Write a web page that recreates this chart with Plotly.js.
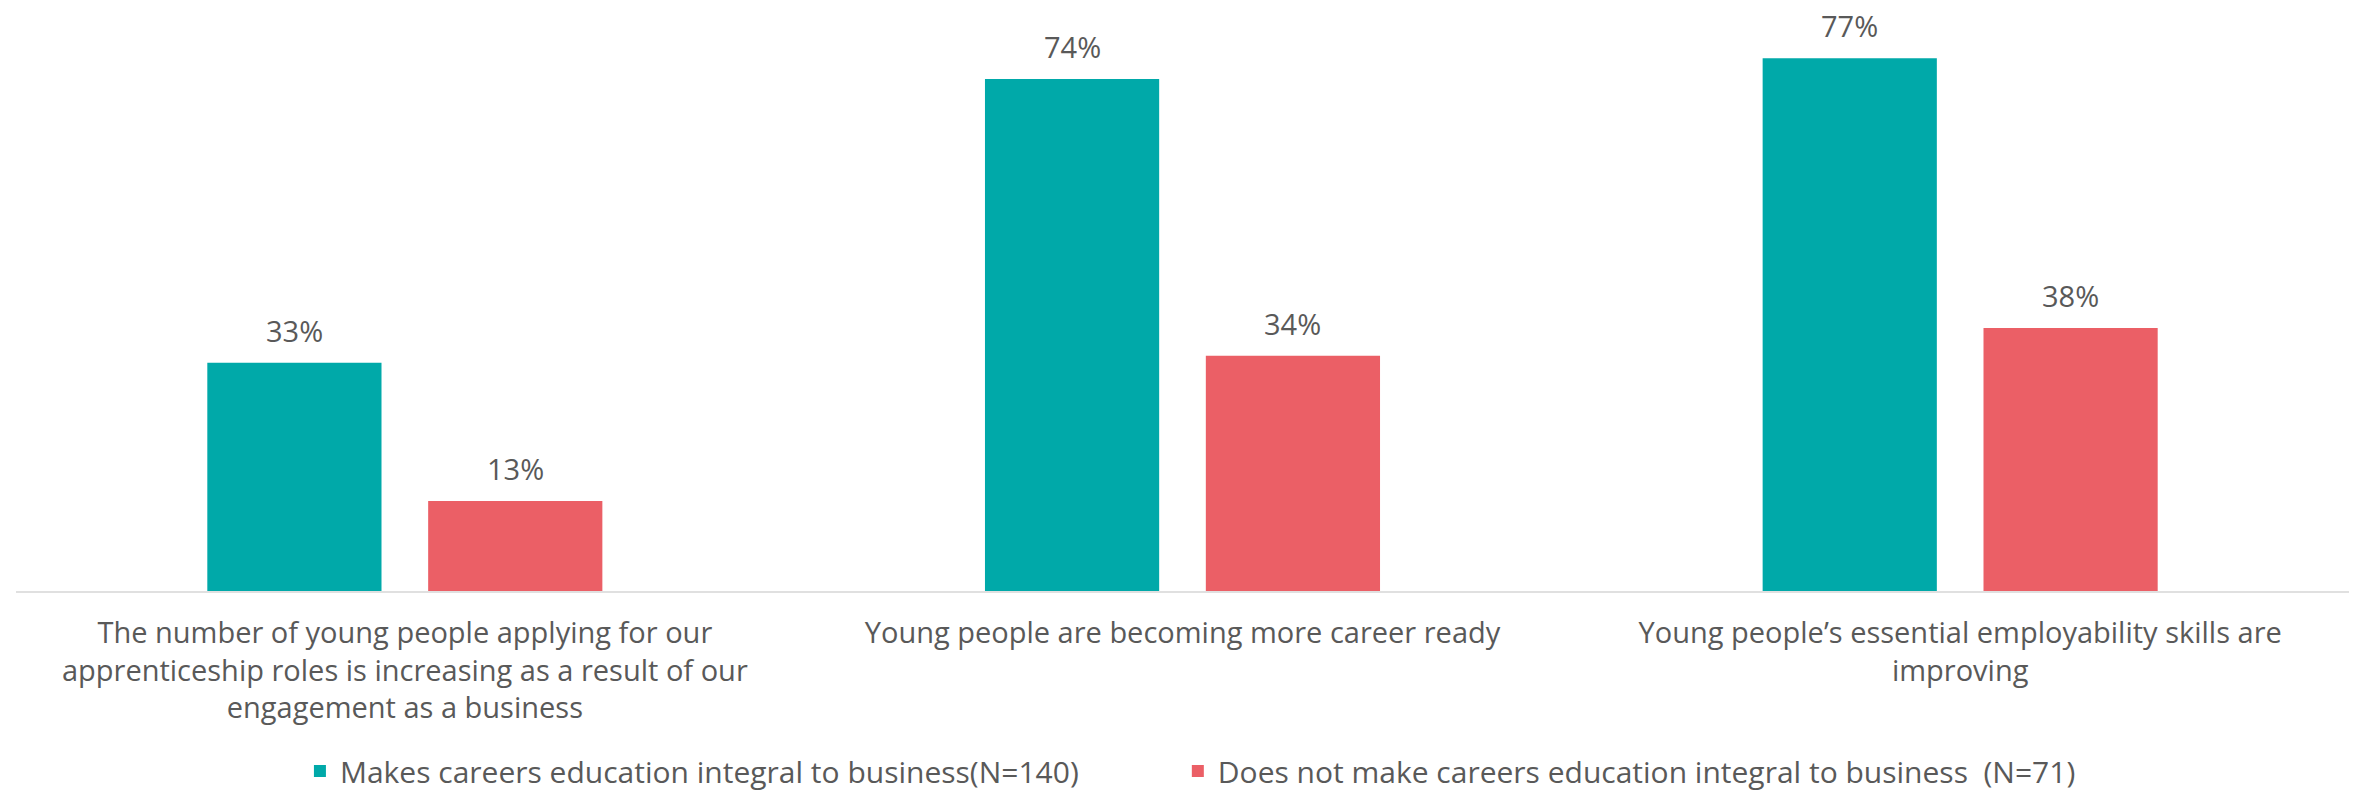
<!DOCTYPE html>
<html>
<head>
<meta charset="utf-8">
<script src="https://cdn.plot.ly/plotly-3.0.1.min.js"></script>
<style>html,body{margin:0;padding:0;background:#fff;}</style>
</head>
<body>
<div id="chart" style="width:2356px;height:794px;"></div>
<script>
const categories = [
  "The number of young people applying for our<br>apprenticeship roles is increasing as a result of our<br>engagement as a business",
  "Young people are becoming more career ready",
  "Young people’s essential employability skills are<br>improving"
];
const seriesNames = [
  "Makes careers education integral to business(N=140)",
  "Does not make careers education integral to business  (N=71)"
];
const integralValues = [33, 74, 77];
const notIntegralValues = [13, 34, 38];
const colors = ["#00A9A9", "#EB5F66"];

const fontFam = "Open Sans, Noto Sans, sans-serif";
const txtColor = "#595959";
const barWidth = 0.224;
const offsets = [-0.254, 0.030];
const legendIds = ["legend", "legend2"];

const seriesValues = [integralValues, notIntegralValues];

const traces = seriesValues.map((vals, i) => ({
  type:"bar", name:seriesNames[i], x:categories, y:vals,
  width:barWidth, offset:offsets[i], legend:legendIds[i],
  marker:{color:colors[i]}, hoverinfo:"none"
}));

const annotations = [];
seriesValues.forEach((vals, i) => {
  vals.forEach((v, j) => {
    annotations.push({
      xref:"x", yref:"y", x:j + offsets[i] + barWidth/2, y:v,
      text:v + "%", showarrow:false, yanchor:"bottom", xanchor:"center", yshift:11,
      font:{family:fontFam, size:29, color:txtColor}
    });
  });
});

const legendBase = {orientation:"h", xanchor:"left", yref:"container", y:0.029, yanchor:"middle",
                    font:{family:fontFam, size:30, color:txtColor}, bgcolor:"rgba(0,0,0,0)"};

const layout = {
  width:2356, height:794,
  margin:{l:16, r:7, t:0, b:203},
  paper_bgcolor:"#ffffff", plot_bgcolor:"#ffffff",
  barmode:"overlay",
  font:{family:fontFam, color:txtColor, size:29},
  xaxis:{type:"category", showline:true, linecolor:"#E0E0E0", linewidth:2,
         ticks:"", showgrid:false, zeroline:false, ticklabelstandoff:15,
         range:[-0.5, 2.5], automargin:false,
         tickfont:{family:fontFam, size:29, color:txtColor}},
  yaxis:{range:[0,85.4], visible:false, showgrid:false, zeroline:false},
  showlegend:true,
  legend:Object.assign({}, legendBase, {x:0.1217}),
  legend2:Object.assign({}, legendBase, {x:0.498}),
  annotations:annotations
};

Plotly.newPlot("chart", traces, layout, {displayModeBar:false, staticPlot:true});
</script>
</body>
</html>
